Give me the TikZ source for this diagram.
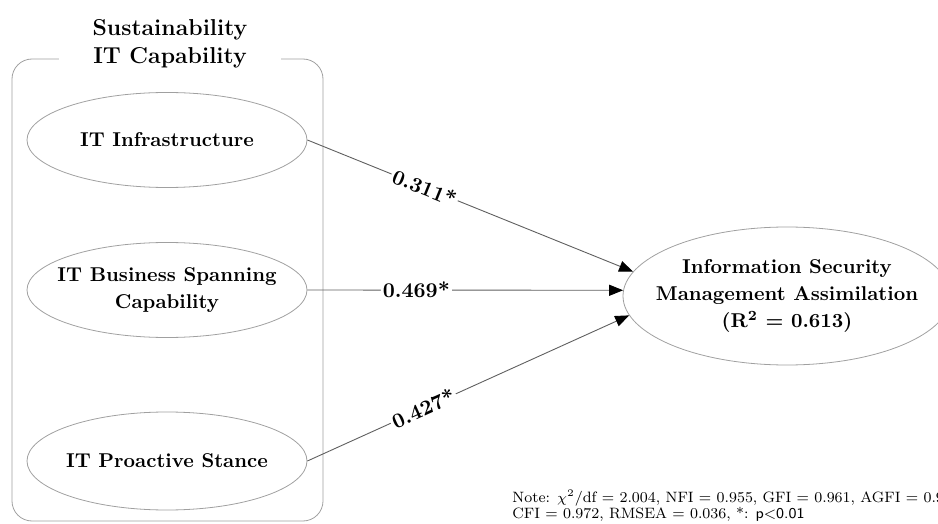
\documentclass[tikz,border=0pt]{standalone}
\usepackage{tikz}
\usetikzlibrary{arrows.meta,shapes.geometric}
\definecolor{semline}{RGB}{160,160,160}
\definecolor{semedge}{RGB}{95,95,95}

\begin{document}
\begin{tikzpicture}[x=0.5pt,y=-0.5pt,
    construct/.style={draw=semline,ellipse,align=center,inner xsep=-10pt,inner ysep=0pt,font=\fontsize{10}{13.5}\selectfont\bfseries},
    effect/.style={draw=semedge,line width=0.45pt,-{Triangle[length=7pt,width=5.5pt,color=black]}},
    coef/.style={sloped,fill=white,inner sep=1pt,font=\fontsize{10.5}{12}\selectfont\bfseries}]
    \useasboundingbox (0,0) rectangle (938,524);
    \draw[semline,rounded corners=10pt] (12,59) rectangle (323,521);
    \node[fill=white,minimum width=111pt,inner sep=1pt,align=center,font=\fontsize{11.5}{14}\selectfont\bfseries] (sitc) at (170,44) {Sustainability\\IT Capability};
    \node[construct,minimum width=140pt,minimum height=47.5pt] (itinf) at (167,140) {IT Infrastructure};
    \node[construct,minimum width=140pt,minimum height=47.5pt] (itbsc) at (167,290) {IT Business Spanning\\Capability};
    \node[construct,minimum width=140pt,minimum height=49pt] (itps) at (167,461) {IT Proactive Stance};
    \node[construct,minimum width=164pt,minimum height=69pt] (isma) at (787,296) {Information Security\\Management Assimilation\\(R\textsuperscript{2} = 0.613)};
    \draw[effect] (itinf.east) -- node[coef,pos=0.36] {0.311*} (isma.171);
    \draw[effect] (itbsc.east) -- node[coef,pos=0.345] {0.469*} (isma.178);
    \draw[effect] (itps.east) -- node[coef,pos=0.36] {0.427*} (isma.187);
    \node[anchor=north west,inner sep=0pt,align=left,font=\fontsize{7.5}{8}\selectfont] (note) at (512,490) {Note: $\chi^2$/df = 2.004, NFI = 0.955, GFI = 0.961, AGFI = 0.924\\CFI = 0.972, RMSEA = 0.036, *: \textsf{p<0.01}};
  \end{tikzpicture}
\end{document}
